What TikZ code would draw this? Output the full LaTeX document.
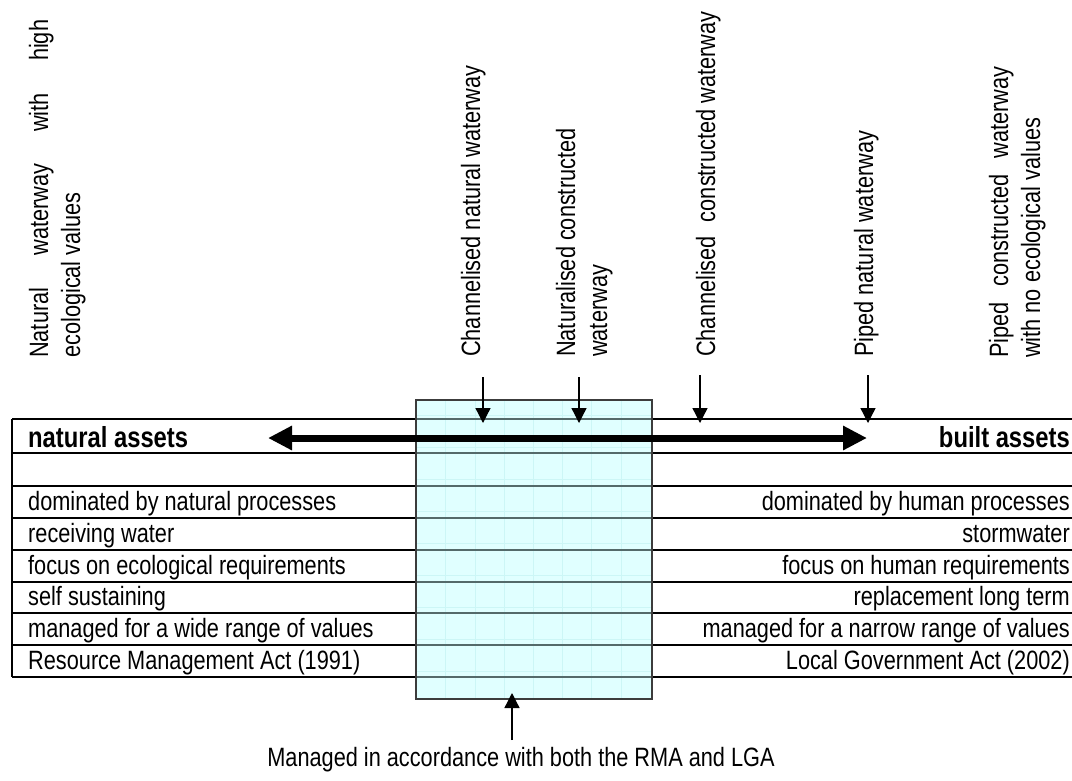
\documentclass[tikz,border=0pt]{standalone}
\usepackage{fontspec}
\setmainfont{Liberation Sans}[FakeStretch=0.82]
\usetikzlibrary{arrows.meta}
\definecolor{boxfill}{RGB}{224,255,255}
\definecolor{gridfaint}{RGB}{204,246,246}
\definecolor{lineinbox}{RGB}{84,106,106}
\definecolor{boxedge}{RGB}{60,60,60}
\tikzset{
  txt/.style={inner sep=0pt, font=\fontsize{26.5pt}{32pt}\selectfont},
  boldtxt/.style={inner sep=0pt, font=\fontsize{29pt}{34pt}\selectfont\bfseries},
  vtxt/.style={txt, rotate=90, anchor=base west},
  tline/.style={line width=1.3pt, black},
  tlinein/.style={line width=1.3pt, lineinbox},
  midbox/.style={draw=boxedge, line width=1.2pt, fill=boxfill, inner sep=0pt,
    minimum width=236pt, minimum height=299pt},
  thinarrow/.style={line width=1.3pt, -{Triangle[length=15pt,width=15pt]}},
  bigarrow/.style={line width=7pt, {Triangle[length=24pt,width=23pt]}-{Triangle[length=24pt,width=23pt]}},
}
\begin{document}
\begin{tikzpicture}[x=1pt,y=1pt]
\useasboundingbox (0,0) rectangle (1072,-780);
% table lines
\foreach \yy in {419,453,486,518,550,582,613,645,677}
  \draw[tline] (12,-\yy) -- (1072,-\yy);
\draw[tline] (12,-419) -- (12,-677);
% middle box
\node[midbox] (mid) at (534,-549.5) {};
\foreach \xx in {445.7,474.9,504.1,533.3,562.5,591.7,620.9}
  \draw[gridfaint, line width=0.5pt] (\xx,-401) -- (\xx,-698);
\foreach \yy in {415,447,479,511,543,575,607,639,671}
  \draw[gridfaint, line width=0.5pt] (417,-\yy) -- (651,-\yy);
\foreach \yy in {419,453,486,518,550,582,613,645,677}
  \draw[tlinein] (417,-\yy) -- (651,-\yy);
\draw[draw=boxedge, line width=1.2pt] (mid.north west) rectangle (mid.south east);
% thick double arrow
\coordinate (la) at (268,-438);
\coordinate (ra) at (867,-438);
\draw[bigarrow] (la) -- (ra);
% vertical labels
\node[vtxt] (nat1) at (48,-358) {\makebox[338pt][s]{Natural waterway with high}};
\node[vtxt] (nat2) at (80,-358) {ecological values};
\node[vtxt] (chn) at (480,-357) {Channelised natural waterway};
\node[vtxt] (natc1) at (575,-357) {Naturalised constructed};
\node[vtxt] (natc2) at (607,-357) {waterway};
\node[vtxt] (chc) at (715,-357) {Channelised\hspace{8pt} constructed waterway};
\node[vtxt] (pipn) at (873,-357) {Piped natural waterway};
\node[vtxt] (pipc1) at (1008,-358) {\makebox[291pt][s]{Piped constructed waterway}};
\node[vtxt] (pipc2) at (1040,-358) {with no ecological values};
% down arrows
\coordinate (a1s) at (483,-377); \coordinate (a1e) at (483,-423);
\coordinate (a2s) at (579,-377); \coordinate (a2e) at (579,-423);
\coordinate (a3s) at (700,-375); \coordinate (a3e) at (700,-423);
\coordinate (a4s) at (868,-375); \coordinate (a4e) at (868,-423);
\draw[thinarrow] (a1s) -- (a1e);
\draw[thinarrow] (a2s) -- (a2e);
\draw[thinarrow] (a3s) -- (a3e);
\draw[thinarrow] (a4s) -- (a4e);
% row texts
\node[boldtxt, anchor=base west] (nh) at (28,-447) {natural assets};
\node[boldtxt, anchor=base east] (bh) at (1070,-447) {built assets};
\node[txt, anchor=base west] (l1) at (28,-510) {dominated by natural processes};
\node[txt, anchor=base west] (l2) at (28,-542) {receiving water};
\node[txt, anchor=base west] (l3) at (28,-574) {focus on ecological requirements};
\node[txt, anchor=base west] (l4) at (28,-605) {self sustaining};
\node[txt, anchor=base west] (l5) at (28,-637) {managed for a wide range of values};
\node[txt, anchor=base west] (l6) at (28,-669) {Resource Management Act (1991)};
\node[txt, anchor=base east] (r1) at (1070,-510) {dominated by human processes};
\node[txt, anchor=base east] (r2) at (1070,-542) {stormwater};
\node[txt, anchor=base east] (r3) at (1070,-574) {focus on human requirements};
\node[txt, anchor=base east] (r4) at (1070,-605) {replacement long term};
\node[txt, anchor=base east] (r5) at (1070,-637) {managed for a narrow range of values};
\node[txt, anchor=base east] (r6) at (1070,-669) {Local Government Act (2002)};
% bottom
\node[txt, anchor=base] (bottom) at (521,-766) {Managed in accordance with both the RMA and LGA};
\coordinate (bs) at (512,-740);
\coordinate (be) at (512,-693);
\draw[thinarrow] (bs) -- (be);
\end{tikzpicture}
\end{document}
